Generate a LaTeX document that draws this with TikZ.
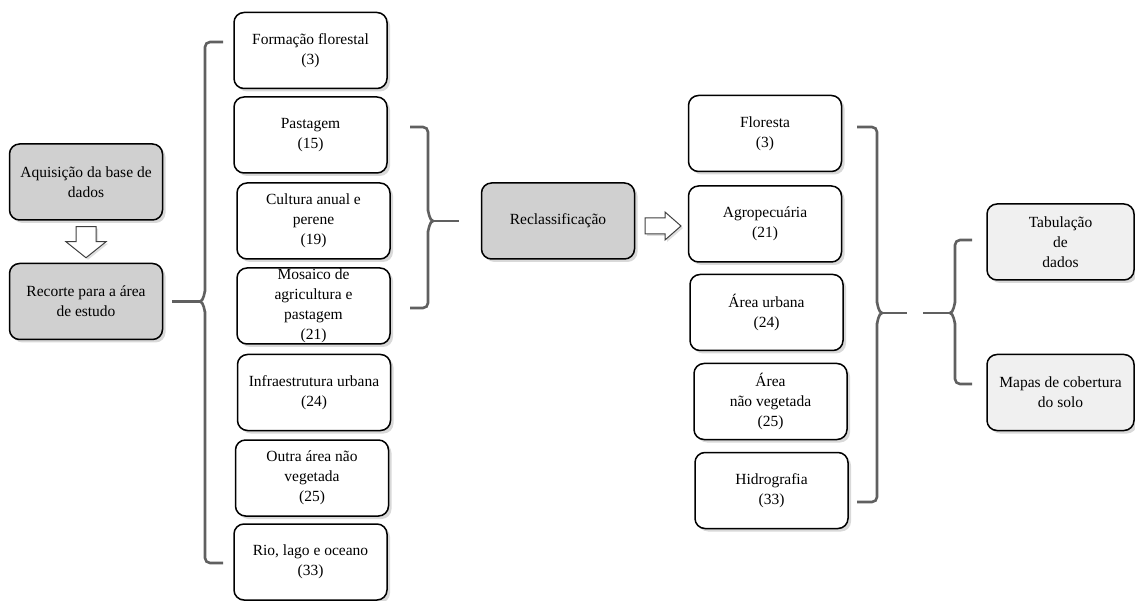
\documentclass[tikz,border=0pt]{standalone}
\usepackage{fontspec}
\setmainfont{Liberation Serif}
\usepackage{xcolor}
\usetikzlibrary{shadows,calc}

\definecolor{boxdark}{RGB}{208,208,208}
\definecolor{boxlight}{RGB}{240,240,240}
\definecolor{bracegray}{RGB}{96,96,96}

\begin{document}
\begin{tikzpicture}[x=1pt,y=-1pt,
    caixa/.style={draw=black, line width=1.5pt, fill=white, rounded corners=10pt,
        minimum width=153pt, minimum height=76pt, inner sep=0pt, align=center,
        font=\fontsize{15.5}{20}\selectfont,
        drop shadow={shadow xshift=3pt, shadow yshift=-3pt, opacity=0.3}},
    escura/.style={caixa, fill=boxdark},
    clara/.style={caixa, fill=boxlight, minimum width=147pt},
    chave/.style={draw=bracegray, line width=2.6pt, rounded corners=5pt},
    seta/.style={draw=black!75, fill=white, line width=1pt, line join=miter,
        drop shadow={shadow xshift=2pt, shadow yshift=-2pt, opacity=0.25}}]
                \useasboundingbox (0,0) rectangle (1135,601);
                % coluna da esquerda
                \node[escura] (aq) at (86,182) {Aquisição da base de\\dados};
                \node[escura] (rec) at (86,301.5) {Recorte para a área\\de estudo};
                \coordinate (s1) at ($(aq.south)!0.5!(rec.north)$);
                \draw[seta] ($(s1)+(-10,-15)$) -- ++(20,0) -- ++(0,15) -- ++(10,0)
                    -- ++(-20,16) -- ++(-20,-16) -- ++(10,0) -- cycle;
                % classes originais
                \node[caixa] (f1) at (310.5,50.5) {Formação florestal\\(3)};
                \node[caixa] (f2) at (310.5,135) {Pastagem\\(15)};
                \node[caixa] (f3) at (313.5,221) {Cultura anual e\\perene\\(19)};
                \node[caixa] (f4) at (313.5,306) {Mosaico de\\agricultura e\\pastagem\\(21)};
                \node[caixa] (f5) at (314,392.5) {Infraestrutura urbana\\(24)};
                \node[caixa] (f6) at (312,478) {Outra área não\\vegetada\\(25)};
                \node[caixa] (f7) at (310.5,562) {Rio, lago e oceano\\(33)};
                % reclassificacao
                \node[escura] (recl) at (558,221) {Reclassificação};
                \coordinate (s2) at (663,226);
                \draw[seta] ($(s2)+(-18,-8)$) -- ++(20,0) -- ++(0,-6) -- ++(16,14)
                    -- ++(-16,14) -- ++(0,-6) -- ++(-20,0) -- cycle;
                \node[caixa] (c1) at (765,133.5) {Floresta\\(3)};
                \node[caixa] (c2) at (765,224) {Agropecuária\\(21)};
                \node[caixa] (c3) at (766.5,312.5) {Área urbana\\(24)};
                \node[caixa] (c4) at (770.5,401.5) {Área\\não vegetada\\(25)};
                \node[caixa] (c5) at (771.5,490.5) {Hidrografia\\(33)};
                % produtos
                \node[clara] (t1) at (1060.5,242) {Tabulação\\de\\dados};
                \node[clara] (t2) at (1060.5,392.5) {Mapas de cobertura\\do solo};
                % chaves
                \coordinate (k1) at (205,301.5);
                \draw[chave] (223,42) -- (205,42) -- ($(k1)+(0,-7)$)
                    to[out=90,in=0,rounded corners=0pt] ($(k1)+(-5,0)$);
                \draw[chave] (223,563) -- (205,563) -- ($(k1)+(0,7)$)
                    to[out=-90,in=0,rounded corners=0pt] ($(k1)+(-5,0)$);
                \draw[chave, rounded corners=0pt] ([xshift=9pt]rec.east) -- ($(k1)+(-5,0)$);
                \coordinate (k2) at (428,221);
                \draw[chave] (410,127) -- (428,127) -- ($(k2)+(0,-7)$)
                    to[out=90,in=180,rounded corners=0pt] ($(k2)+(5,0)$);
                \draw[chave] (410,308) -- (428,308) -- ($(k2)+(0,7)$)
                    to[out=-90,in=180,rounded corners=0pt] ($(k2)+(5,0)$);
                \draw[chave, rounded corners=0pt] ($(k2)+(5,0)$) -- ([xshift=-22pt]recl.west);
                \coordinate (k3) at (877,313);
                \draw[chave] (857,127) -- (877,127) -- ($(k3)+(0,-7)$)
                    to[out=90,in=180,rounded corners=0pt] ($(k3)+(5,0)$);
                \draw[chave] (857,502) -- (877,502) -- ($(k3)+(0,7)$)
                    to[out=-90,in=180,rounded corners=0pt] ($(k3)+(5,0)$);
                \draw[chave, rounded corners=0pt] ($(k3)+(5,0)$) -- (907,313);
                \coordinate (k4) at (955,313);
                \draw[chave] (972,240) -- (955,240) -- ($(k4)+(0,-7)$)
                    to[out=90,in=0,rounded corners=0pt] ($(k4)+(-5,0)$);
                \draw[chave] (972,384) -- (955,384) -- ($(k4)+(0,7)$)
                    to[out=-90,in=0,rounded corners=0pt] ($(k4)+(-5,0)$);
                \draw[chave, rounded corners=0pt] ($(k4)+(-5,0)$) -- (923,313);
            \end{tikzpicture}
\end{document}
